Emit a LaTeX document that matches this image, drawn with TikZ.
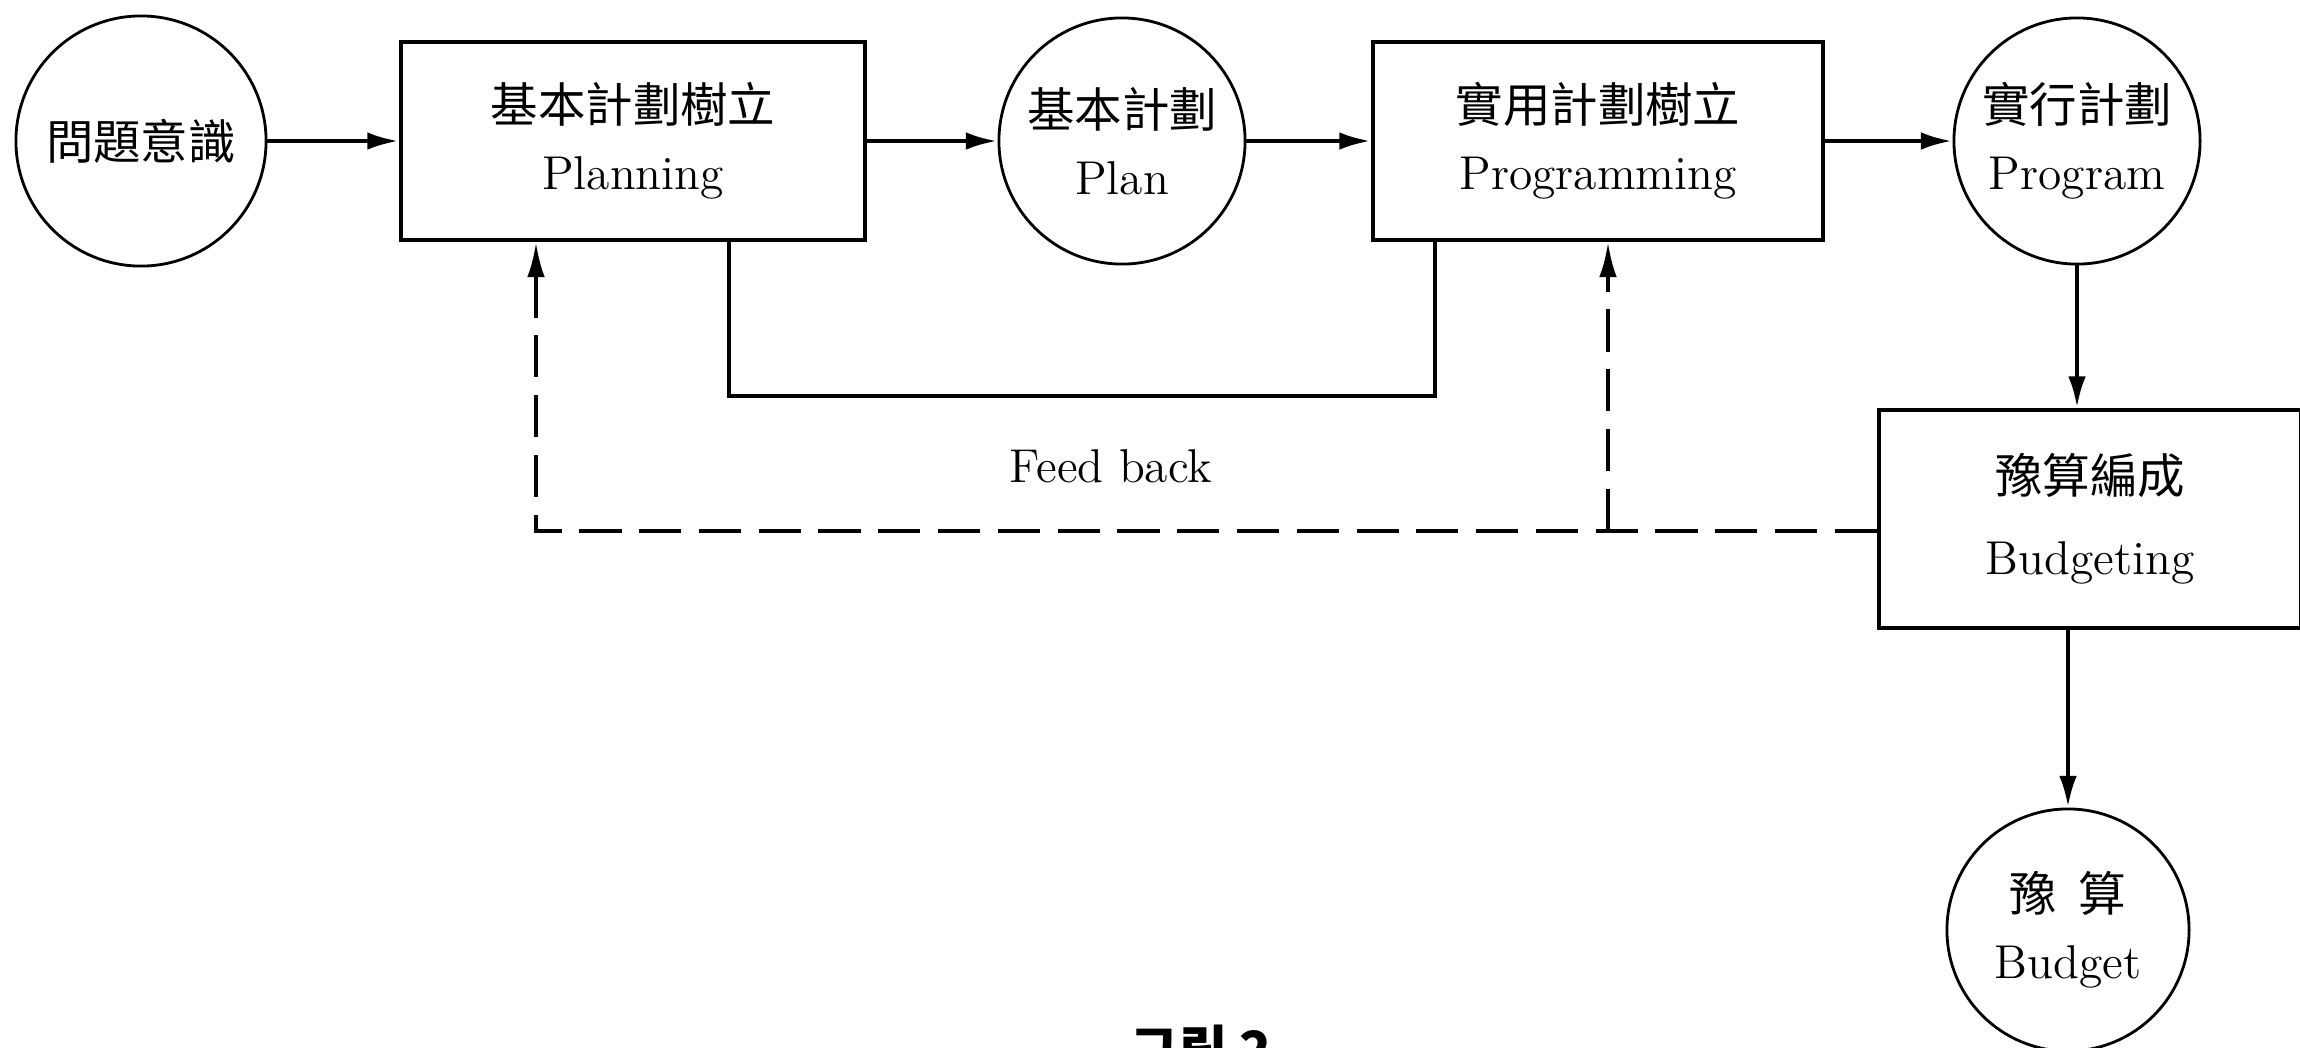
\documentclass[tikz,border=0pt]{standalone}
\usepackage{fontspec}
\newfontfamily\tcfont{Noto Sans CJK TC}
\newfontfamily\krfont{Noto Sans CJK KR}
\usetikzlibrary{arrows.meta}
\begin{document}
\begin{tikzpicture}[x=0.01cm,y=-0.01cm,
  every node/.style={font=\fontsize{13.5}{19}\selectfont, align=center},
  procbox/.style={draw, line width=1.1pt, rectangle, inner sep=0pt},
  state/.style={draw, circle, line width=0.8pt, inner sep=0pt},
  flow/.style={line width=1.3pt, -{Latex[length=9pt,width=5pt]}},
  link/.style={line width=1.2pt},
  fb/.style={line width=1.2pt, dash pattern=on 12pt off 5pt},
  fbarrow/.style={fb, -{Latex[length=10pt,width=5pt]}}
]
\fill[white] (0,0) rectangle (2300,1047);
\useasboundingbox (0,0) rectangle (2300,1047);
\clip (0,0) rectangle (2300,1047);

\node[state, minimum size=2.5cm] (c1) at (141,141) {\tcfont 問題意識};
\node[procbox, minimum width=4.64cm, minimum height=1.98cm] (b1) at (633,141) {{\tcfont 基本計劃樹立}\\Planning};
\node[state, minimum size=2.46cm] (c2) at (1122,141) {{\tcfont 基本計劃}\\Plan};
\node[procbox, minimum width=4.5cm, minimum height=1.98cm] (b2) at (1598,141) {{\tcfont 實用計劃樹立}\\Programming};
\node[state, minimum size=2.46cm] (c3) at (2077,141) {{\tcfont 實行計劃}\\Program};
\node[procbox, minimum width=4.22cm, minimum height=2.18cm] (b3) at (2090,519) {{\tcfont 豫算編成}\\[4pt]Budgeting};
\node[state, minimum size=2.42cm] (c4) at (2068,930) {{\tcfont 豫\ \ 算}\\Budget};
\node (fbl) at (1111,466) {Feed back};
\node[font=\krfont\bfseries\fontsize{15}{18}\selectfont, anchor=base west, inner sep=0pt] (cap) at (1130,1069) {그림 2};

\draw[flow] (c1) -- (b1);
\draw[flow] (b1) -- (c2);
\draw[flow] (c2) -- (b2);
\draw[flow] (b2) -- (c3);
\draw[flow] (c3) -- (c3 |- b3.north);
\draw[flow] (c4 |- b3.south) -- (c4);

\coordinate (l1) at (729,396);
\coordinate (l2) at (1435,396);
\draw[link] (b1.south -| l1) -- (l1) -- (l2) -- (b2.south -| l2);

\coordinate (d1) at (536,531);
\coordinate (d2) at (1608,531);
\draw[fbarrow] (b3.west |- d1) -- (d1) -- (b1.south -| d1);
\draw[fbarrow] (d2) -- (b2.south -| d2);
\end{tikzpicture}
\end{document}
